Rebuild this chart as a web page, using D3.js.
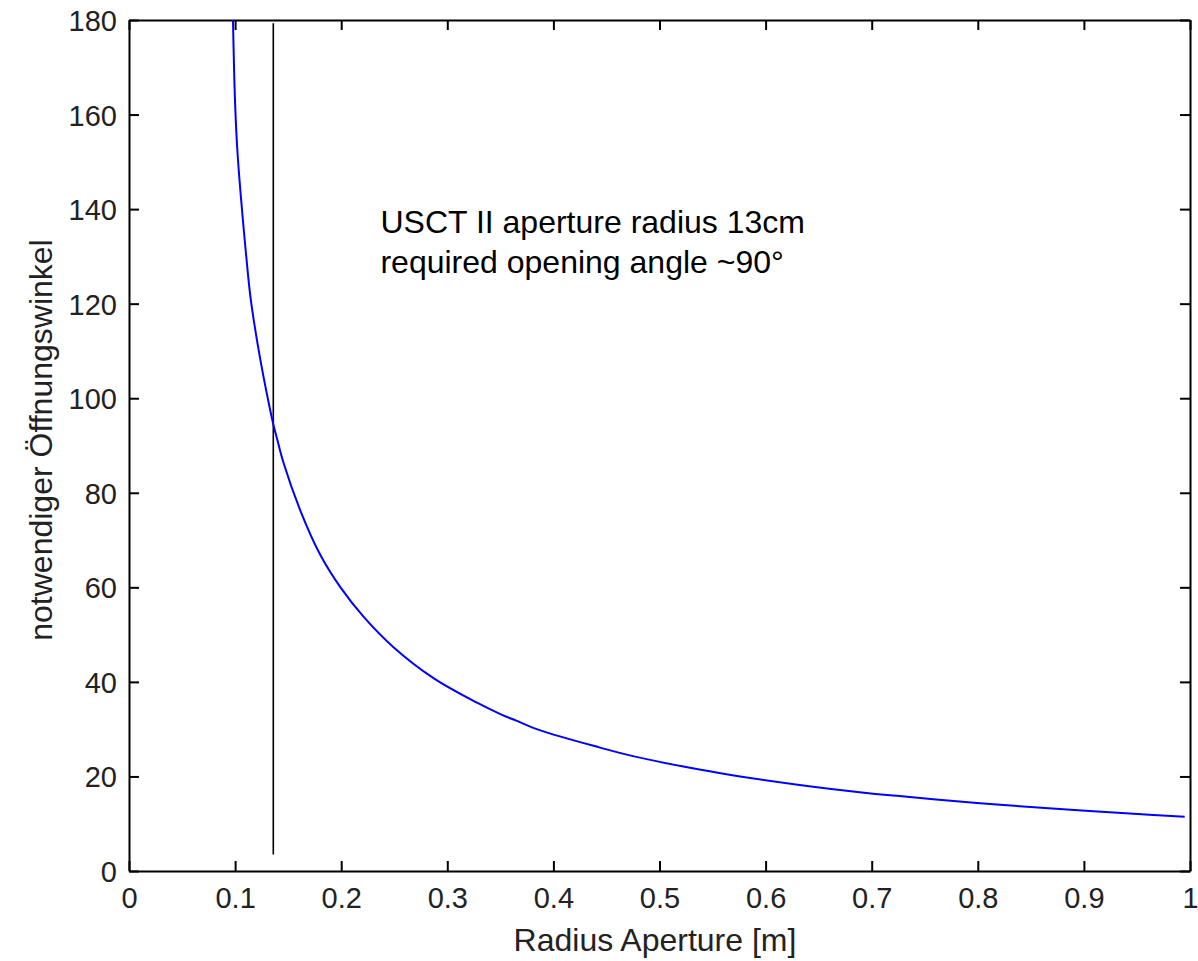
<!DOCTYPE html>
<html>
<head>
<meta charset="utf-8">
<script src="https://cdn.jsdelivr.net/npm/d3@7"></script>
<style>
  html, body { margin: 0; padding: 0; background: #fff; }
  svg { display: block; }
</style>
</head>
<body>
<div id="chart"></div>
<script>
// ---- data ----
const radius = [0.098, 0.0999, 0.1021, 0.1053, 0.1103, 0.1147, 0.1225, 0.1313, 0.136, 0.1398, 0.1454, 0.1612, 0.180, 0.199, 0.221, 0.249, 0.287, 0.328, 0.350, 0.365, 0.387, 0.444, 0.475, 0.539, 0.576, 0.632, 0.695, 0.724, 0.758, 0.821, 0.884, 0.947, 0.995];
const angle  = [180, 163, 152.5, 143, 130.5, 121, 109.8, 99.4, 94.5, 91.2, 86.5, 76.4, 67.0, 60.1, 53.8, 47.4, 40.8, 35.6, 33.2, 31.8, 29.8, 26.1, 24.3, 21.4, 20.0, 18.2, 16.5, 15.9, 15.2, 14.0, 13.0, 12.1, 11.5];
const markerRadius = [0.136];
const xTicks = [0, 0.1, 0.2, 0.3, 0.4, 0.5, 0.6, 0.7, 0.8, 0.9, 1];
const yTicks = [0, 20, 40, 60, 80, 100, 120, 140, 160, 180];
const annotationLines = ["USCT II aperture radius 13cm", "required opening angle ~90\u00B0"];
const xLabel = "Radius Aperture [m]";
const yLabel = "notwendiger \u00D6ffnungswinkel";

(function () {
// ---- layout ----
const W = 1198, H = 961;
const mLeft = 129, mRight = 1190, mTop = 20, mBottom = 871;

const svg = d3.select("#chart").append("svg").attr("width", W).attr("height", H);

const x = d3.scaleLinear().domain([0, 1]).range([mLeft, mRight]);
const y = d3.scaleLinear().domain([0, 180]).range([mBottom, mTop]);

const tickFont = "'Liberation Sans', Arial, sans-serif";
const fmt = d => String(d);

// bottom axis
const gx = svg.append("g").attr("transform", `translate(0,${mBottom})`)
  .call(d3.axisBottom(x).tickValues(xTicks).tickFormat(fmt).tickSizeInner(-10).tickSizeOuter(0).tickPadding(16));
// top axis ticks
const gxt = svg.append("g").attr("transform", `translate(0,${mTop})`)
  .call(d3.axisTop(x).tickValues(xTicks).tickFormat("").tickSizeInner(-10).tickSizeOuter(0));
// left axis
const gy = svg.append("g").attr("transform", `translate(${mLeft},0)`)
  .call(d3.axisLeft(y).tickValues(yTicks).tickSizeInner(-10).tickSizeOuter(0).tickPadding(12));
// right axis ticks
const gyr = svg.append("g").attr("transform", `translate(${mRight},0)`)
  .call(d3.axisRight(y).tickValues(yTicks).tickFormat("").tickSizeInner(-10).tickSizeOuter(0));

[gx, gxt, gy, gyr].forEach(g => {
  g.select(".domain").attr("stroke", "#000").attr("stroke-width", 2);
  g.selectAll(".tick line").attr("stroke", "#000").attr("stroke-width", 2);
  g.selectAll(".tick text").attr("fill", "#222").style("font-family", tickFont).style("font-size", "29px");
});
gx.selectAll(".tick text").attr("dy", "0.71em");
gy.selectAll(".tick text").attr("dy", "0.36em");

// vertical marker line
svg.append("g").selectAll("line").data(markerRadius).join("line")
  .attr("x1", d => x(d)).attr("x2", d => x(d))
  .attr("y1", y(179.3)).attr("y2", y(3.5))
  .attr("stroke", "#000").attr("stroke-width", 1.6);

// curve
const pts = radius.map((r, i) => [r, angle[i]]);
svg.append("path").datum(pts)
  .attr("fill", "none").attr("stroke", "#0000ff").attr("stroke-width", 2)
  .attr("d", d3.line().x(d => x(d[0])).y(d => y(d[1])).curve(d3.curveCatmullRom.alpha(0.5)));

// annotation
const ann = svg.append("text").attr("x", x(0.237)).attr("y", 233)
  .style("font-family", "'Liberation Sans', Arial, sans-serif").style("font-size", "32px").attr("fill", "#000");
ann.selectAll("tspan").data(annotationLines).join("tspan")
  .attr("x", x(0.237)).attr("dy", (d, i) => i === 0 ? 0 : 40).text(d => d);

// axis labels
svg.append("text").attr("x", 655).attr("y", 951).attr("text-anchor", "middle")
  .style("font-family", tickFont).style("font-size", "32px").attr("fill", "#222").text(xLabel);
svg.append("text").attr("transform", `translate(52,440) rotate(-90)`).attr("text-anchor", "middle")
  .style("font-family", tickFont).style("font-size", "32px").attr("fill", "#222").text(yLabel);
})();
</script>
</body>
</html>
